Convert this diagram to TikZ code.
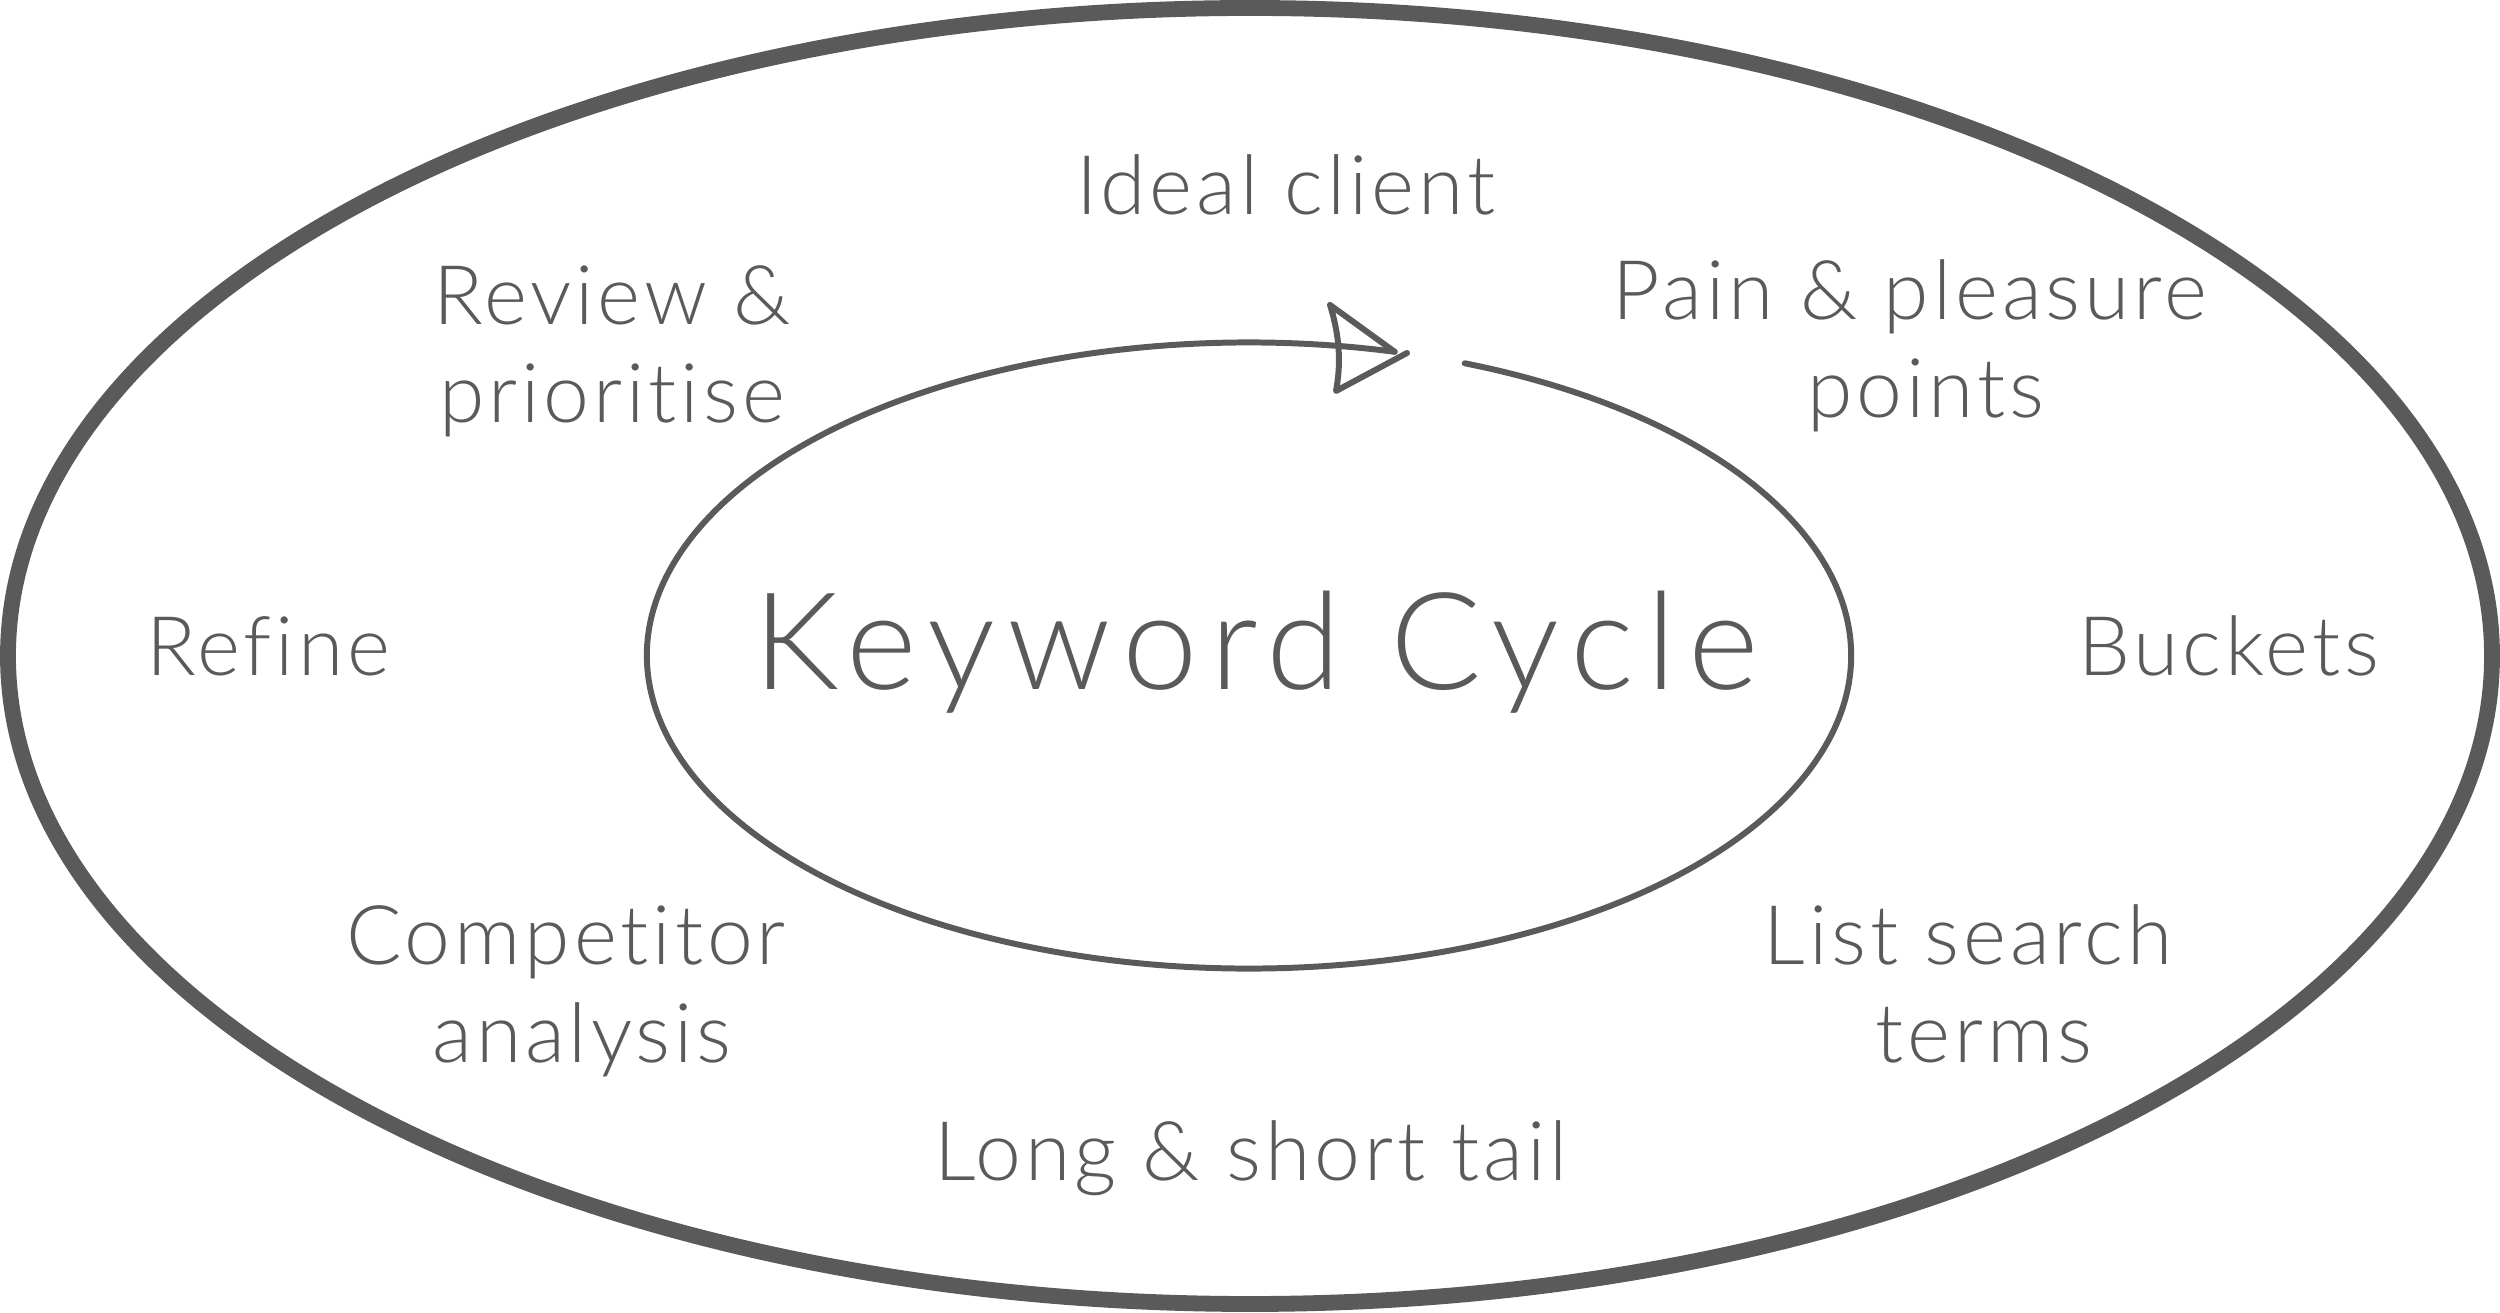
\documentclass[tikz,border=0pt]{standalone}
\usepackage{fontspec}
\newfontfamily\lblfont{Lato Light}[LetterSpace=4.7,Ligatures=NoCommon]
\newfontfamily\titlefont{Lato Light}[LetterSpace=9,Ligatures=NoCommon]
\definecolor{ink}{HTML}{5A5A5A}
\begin{document}
\begin{tikzpicture}[x=0.01cm,y=0.01cm,
  lbl/.style={anchor=base,inner sep=0pt,text=ink,font=\lblfont\fontsize{23.4pt}{28pt}\selectfont},
  title/.style={anchor=base,inner sep=0pt,text=ink,font=\titlefont\fontsize{38.5pt}{46pt}\selectfont},
  outerline/.style={draw=ink,line width=4.5pt},
  innerline/.style={draw=ink,line width=1.7pt,line cap=round,line join=round}]
\useasboundingbox (0,0) rectangle (2500,1312);
% outer ellipse
\coordinate (oc) at (1250,656);
\draw[outerline] (oc) ellipse [x radius=1242, y radius=648];
% inner cycle
\coordinate (ic) at (1249,656.5);
\draw[innerline] (ic) ++(69:602 and 313) coordinate (gapstart)
  arc[start angle=69, end angle=-284, x radius=602, y radius=313] coordinate (tip);
% arrowhead
\coordinate (atop) at (1330,1007);
\coordinate (abot) at (1336,921);
\coordinate (abarb) at (1407,959);
\draw[innerline] (tip) -- (atop) .. controls (1340,975) and (1341,948) .. (abot) -- (abarb);
% labels
\node[title] (kc) at (1256,622) {Keyword Cycle};
\node[lbl] (ideal) at (1286,1097) {Ideal client};
\node[lbl] (rev1) at (612,987) {Review \&};
\node[lbl] (rev2) at (612,889) {prioritise};
\node[lbl] (pain1) at (1910,992) {Pain \& pleasure};
\node[lbl] (pain2) at (1926,894) {points};
\node[lbl] (refine) at (268,636) {Refine};
\node[lbl] (buckets) at (2229,636) {Buckets};
\node[lbl] (comp1) at (566,347) {Competitor};
\node[lbl] (comp2) at (582,249) {analysis};
\node[lbl] (list1) at (1968,347) {List search};
\node[lbl] (list2) at (1984,249) {terms};
\node[lbl] (long) at (1251,131) {Long \& short tail};
\end{tikzpicture}
\end{document}
